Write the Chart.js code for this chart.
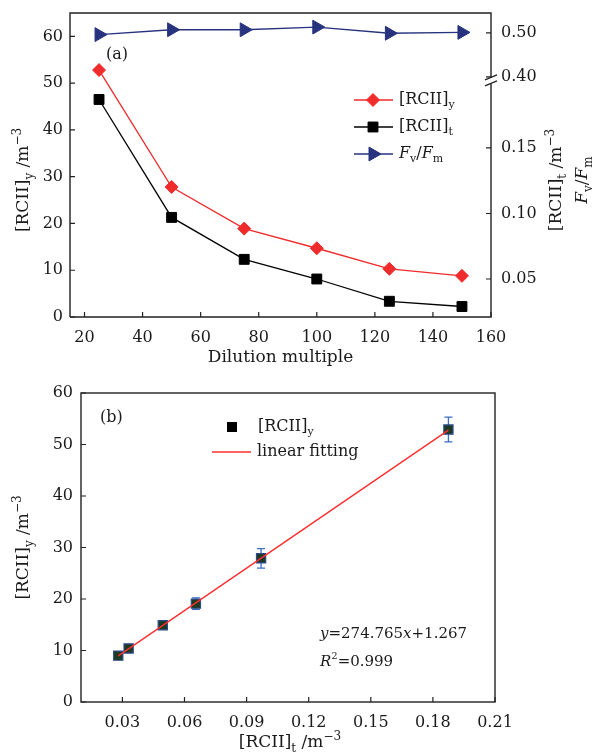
<!DOCTYPE html>
<html>
<head>
<meta charset='utf-8'>
<title>RCII dilution</title>
<script src="https://cdn.jsdelivr.net/npm/chart.js@4.4.0/dist/chart.umd.min.js"></script>
<style>
  body { margin: 0; background: #fff; }
  .box { position: absolute; left: 0; width: 597px; }
</style>
<script>
// (a) dilution series
var dilution = [25, 50, 75, 100, 125, 150];
var rciiY = [52.8, 27.8, 18.9, 14.7, 10.3, 8.8];
var rciiT = [0.187, 0.097, 0.065, 0.050, 0.033, 0.029];
var fvfm = [0.496, 0.507, 0.507, 0.513, 0.499, 0.501];
var xTicksA = [20, 40, 60, 80, 100, 120, 140, 160];
var yTicksA = [0, 10, 20, 30, 40, 50, 60];
var rTicksLow = [0.05, 0.10, 0.15];
var rTicksHigh = [0.40, 0.50];

// (b) [RCII]y against [RCII]t
var tB = [0.028, 0.033, 0.0495, 0.0655, 0.097, 0.1875];
var yB = [9.0, 10.4, 14.9, 19.1, 27.9, 52.9];
var errB = [0.4, 0.4, 0.5, 1.1, 1.9, 2.4];
var fitX = [0.028, 0.1875];
var fitY = [8.96, 52.8];
var xTicksB = [0.03, 0.06, 0.09, 0.12, 0.15, 0.18, 0.21];
var yTicksB = [0, 10, 20, 30, 40, 50, 60];

var FONT = '"DejaVu Serif", "Liberation Serif", serif';
var TICK = 16;
var RED = '#f02b2b';
var NAVY = '#28337f';
var INK = '#1a1a1a';

// text with sub/superscripts, parts = [{t, sub, sup, i}]
function partFont(p, size) {
  var s = (p.sub || p.sup) ? Math.round(size * 0.68) : size;
  return (p.i ? 'italic ' : '') + s + 'px ' + FONT;
}
function drawRich(ctx, parts, x, y, size, align, angle) {
  ctx.save();
  ctx.translate(x, y);
  ctx.rotate(angle || 0);
  ctx.textBaseline = 'middle';
  ctx.textAlign = 'left';
  ctx.fillStyle = INK;
  var w = 0;
  parts.forEach(function (p) { ctx.font = partFont(p, size); p.w = ctx.measureText(p.t).width; w += p.w; });
  var cx = align === 'center' ? -w / 2 : (align === 'right' ? -w : 0);
  parts.forEach(function (p) {
    ctx.font = partFont(p, size);
    var dy = p.sub ? size * 0.32 : (p.sup ? -size * 0.38 : 0);
    ctx.fillText(p.t, cx, dy);
    cx += p.w;
  });
  ctx.restore();
}

function inTicks(ctx, scale, list, area, len) {
  ctx.beginPath();
  list.forEach(function (v) {
    var p = scale.getPixelForValue(v);
    if (scale.isHorizontal()) { ctx.moveTo(p, area.bottom); ctx.lineTo(p, area.bottom - len); }
    else if (scale.position === 'left') { ctx.moveTo(area.left, p); ctx.lineTo(area.left + len, p); }
    else { ctx.moveTo(area.right, p); ctx.lineTo(area.right - len, p); }
  });
  ctx.stroke();
}

function fixTicks(list) {
  return function (s) { s.ticks = list.map(function (v) { return { value: v }; }); };
}

function axis(pos, min, max, list, pad, fmt, size) {
  return {
    type: 'linear', position: pos, min: min, max: max,
    grid: { display: false, drawTicks: false }, border: { display: false },
    afterBuildTicks: fixTicks(list),
    afterFit: function (s) {
      if (s.isHorizontal()) { s.height = size; s.paddingLeft = 0; s.paddingRight = 0; }
      else { s.width = size; s.paddingTop = 0; s.paddingBottom = 0; }
    },
    ticks: {
      padding: pad, color: INK, font: { family: FONT, size: TICK },
      callback: fmt || function (v) { return v; }
    }
  };
}

function fix2(v) { return v.toFixed(2); }

var labY = [{ t: '[RCII]' }, { t: 'y', sub: true }];
var labT = [{ t: '[RCII]' }, { t: 't', sub: true }];
var labF = [{ t: 'F', i: true }, { t: 'v', sub: true }, { t: '/' }, { t: 'F', i: true }, { t: 'm', sub: true }];
var unit = [{ t: ' /m' }, { t: '\u22123', sup: true }];

function legendRow(ctx, ds, x, y, parts, withLine) {
  ctx.save();
  if (withLine) {
    ctx.strokeStyle = ds.borderColor; ctx.lineWidth = ds.borderWidth;
    ctx.beginPath(); ctx.moveTo(x, y); ctx.lineTo(x + 39, y); ctx.stroke();
  }
  if (ds.pointRadius > 0) {
    ctx.fillStyle = ds.pointBackgroundColor || ds.backgroundColor;
    ctx.strokeStyle = ds.pointBorderColor || ds.borderColor;
    ctx.lineWidth = 1;
    Chart.helpers.drawPoint(ctx, { pointStyle: ds.pointStyle, rotation: ds.pointRotation || 0, radius: ds.pointRadius, borderWidth: 1 }, x + 19, y);
  }
  ctx.restore();
  drawRich(ctx, parts, x + 45, y, 16, 'left');
}

var decoA = {
  id: 'decoA',
  afterDraw: function (chart) {
    var ctx = chart.ctx, a = chart.chartArea, sc = chart.scales;
    ctx.save();
    ctx.strokeStyle = '#222'; ctx.lineWidth = 1.4;
    var b = sc.yF.getPixelForValue(0.40) + 4;
    ctx.beginPath();
    ctx.moveTo(a.left, a.bottom); ctx.lineTo(a.left, a.top); ctx.lineTo(a.right, a.top); ctx.lineTo(a.right, b - 3);
    ctx.moveTo(a.right, b + 3); ctx.lineTo(a.right, a.bottom); ctx.lineTo(a.left, a.bottom);
    ctx.stroke();
    ctx.lineWidth = 1.2;
    ctx.beginPath();
    ctx.moveTo(a.right - 6, b - 1); ctx.lineTo(a.right + 6, b - 6);
    ctx.moveTo(a.right - 6, b + 5); ctx.lineTo(a.right + 6, b);
    ctx.stroke();
    ctx.lineWidth = 1.2;
    inTicks(ctx, sc.x, xTicksA, a, 5); inTicks(ctx, sc.y, yTicksA, a, 5);
    inTicks(ctx, sc.yR, rTicksLow, a, 5); inTicks(ctx, sc.yF, rTicksHigh, a, 5);
    ctx.restore();

    // upper segment of the broken right axis
    rTicksHigh.forEach(function (v) {
      drawRich(ctx, [{ t: fix2(v) }], a.right + 10, sc.yF.getPixelForValue(v), TICK, 'left');
    });

    drawRich(ctx, [{ t: 'Dilution multiple' }], (a.left + a.right) / 2, 358, 17, 'center');
    drawRich(ctx, labY.concat(unit), 24, 180, 17, 'center', -Math.PI / 2);
    drawRich(ctx, labT.concat(unit), 557, 180, 17, 'center', -Math.PI / 2);
    drawRich(ctx, labF, 583, 180, 17, 'center', -Math.PI / 2);
    drawRich(ctx, [{ t: '(a)' }], 106, 55, 16, 'left');

    var ds = chart.data.datasets;
    legendRow(ctx, ds[0], 354, 100, labY, true);
    legendRow(ctx, ds[1], 354, 127, labT, true);
    legendRow(ctx, ds[2], 354, 154, labF, true);
  }
};

var errorBars = {
  id: 'errorBars',
  beforeDatasetsDraw: function (chart) {
    var ctx = chart.ctx, sx = chart.scales.x, sy = chart.scales.y;
    ctx.save();
    ctx.strokeStyle = '#3a6cc8'; ctx.lineWidth = 1.3;
    ctx.beginPath();
    tB.forEach(function (x, i) {
      var px = sx.getPixelForValue(x);
      var top = sy.getPixelForValue(yB[i] + errB[i]);
      var bot = sy.getPixelForValue(yB[i] - errB[i]);
      ctx.moveTo(px, top); ctx.lineTo(px, bot);
      ctx.moveTo(px - 4, top); ctx.lineTo(px + 4, top);
      ctx.moveTo(px - 4, bot); ctx.lineTo(px + 4, bot);
    });
    ctx.stroke();
    ctx.restore();
  }
};

var decoB = {
  id: 'decoB',
  afterDraw: function (chart) {
    var ctx = chart.ctx, a = chart.chartArea, sc = chart.scales;
    ctx.save();
    ctx.strokeStyle = '#222'; ctx.lineWidth = 1.4;
    ctx.strokeRect(a.left, a.top, a.right - a.left, a.bottom - a.top);
    ctx.lineWidth = 1.2;
    inTicks(ctx, sc.x, xTicksB, a, 5); inTicks(ctx, sc.y, yTicksB, a, 5);
    ctx.restore();

    drawRich(ctx, labT.concat(unit), (a.left + a.right) / 2 + 2, 368, 17, 'center');
    drawRich(ctx, labY.concat(unit), 24, (a.top + a.bottom) / 2, 17, 'center', -Math.PI / 2);
    drawRich(ctx, [{ t: '(b)' }], 100, 43, 16, 'left');
    drawRich(ctx, [{ t: 'y', i: true }, { t: '=274.765' }, { t: 'x', i: true }, { t: '+1.267' }], 320, 259, 15, 'left');
    drawRich(ctx, [{ t: 'R', i: true }, { t: '2', sup: true }, { t: '=0.999' }], 320, 287, 15, 'left');

    var ds = chart.data.datasets;
    ctx.save();
    ctx.fillStyle = '#000';
    ctx.fillRect(227, 47, 10, 10);
    ctx.restore();
    drawRich(ctx, labY, 258, 52, 16, 'left');
    legendRow(ctx, ds[1], 212, 77, [{ t: 'linear fitting' }], true);
  }
};

function pts(xs, ys) { return xs.map(function (x, i) { return { x: x, y: ys[i] }; }); }

function draw() {
  new Chart(document.getElementById('chartA'), {
    type: 'line',
    data: {
      datasets: [
        { label: '[RCII]y', data: pts(dilution, rciiY), yAxisID: 'y', borderColor: RED, backgroundColor: RED,
          borderWidth: 1.3, pointStyle: 'rectRot', pointRadius: 6.5, pointBorderWidth: 1 },
        { label: '[RCII]t', data: pts(dilution, rciiT), yAxisID: 'yR', borderColor: '#000', backgroundColor: '#000',
          borderWidth: 1.3, pointStyle: 'rect', pointRadius: 7, pointBorderWidth: 1 },
        { label: 'Fv/Fm', data: pts(dilution, fvfm), yAxisID: 'yF', borderColor: NAVY, backgroundColor: NAVY,
          borderWidth: 1.3, pointStyle: 'triangle', pointRotation: 90, pointRadius: 8, pointBorderWidth: 1 }
      ]
    },
    options: {
      responsive: false, animation: false, events: [], devicePixelRatio: 1,
      layout: { padding: { top: 13, left: 0, right: 0, bottom: 0 } },
      plugins: { legend: { display: false }, tooltip: { enabled: false } },
      scales: {
        x: axis('bottom', 15, 160, xTicksA, 11, null, 58),
        y: axis('left', 0, 65, yTicksA, 7, null, 70),
        yF: Object.assign(axis('right', -0.145, 0.545, rTicksHigh, 10, fix2, 0), { display: false }),
        yR: axis('right', 0.021, 0.253, rTicksLow, 10, fix2, 106)
      }
    },
    plugins: [decoA]
  });

  new Chart(document.getElementById('chartB'), {
    type: 'scatter',
    data: {
      datasets: [
        { label: '[RCII]y', data: pts(tB, yB), order: 2, showLine: false, pointStyle: 'rect', pointRadius: 6.5,
          backgroundColor: '#1d3a20', borderColor: '#2a4a8c', pointBorderWidth: 1.2 },
        { label: 'linear fitting', data: pts(fitX, fitY), order: 1, showLine: true, pointRadius: 0,
          borderColor: '#ff2e2e', backgroundColor: '#ff2e2e', borderWidth: 1.4 }
      ]
    },
    options: {
      responsive: false, animation: false, events: [], devicePixelRatio: 1,
      layout: { padding: { top: 18, left: 0, right: 102, bottom: 0 } },
      plugins: { legend: { display: false }, tooltip: { enabled: false } },
      scales: {
        x: axis('bottom', 0.01, 0.21, xTicksB, 11, fix2, 53),
        y: axis('left', 0, 60, yTicksB, 8, null, 81)
      }
    },
    plugins: [errorBars, decoB]
  });
}
onload = draw;
</script>
</head>
<body>
  <div class="box" style="top:0;height:375px"><canvas id="chartA" width="597" height="375"></canvas></div>
  <div class="box" style="top:375px;height:380px"><canvas id="chartB" width="597" height="380"></canvas></div>
</body>
</html>
